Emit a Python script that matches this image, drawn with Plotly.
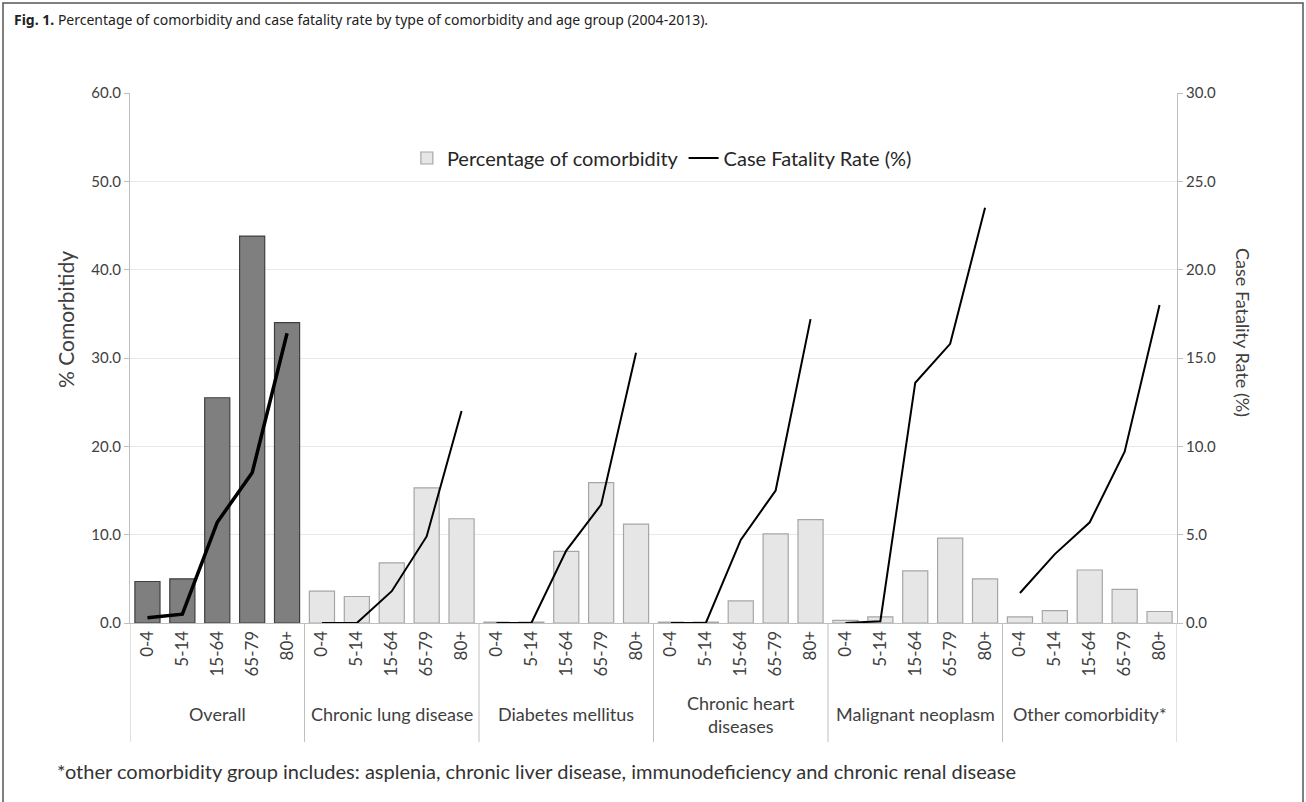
import plotly.graph_objects as go

# ---------------- data ----------------
age_groups = ["0-4", "5-14", "15-64", "65-79", "80+"]
group_names = ["Overall", "Chronic lung disease", "Diabetes mellitus",
               "Chronic heart<br>diseases", "Malignant neoplasm", "Other comorbidity*"]

pct_overall = [4.7, 5.0, 25.5, 43.8, 34.0]
pct_lung = [3.6, 3.0, 6.8, 15.3, 11.8]
pct_diabetes = [0.1, 0.1, 8.1, 15.9, 11.2]
pct_heart = [0.1, 0.1, 2.5, 10.1, 11.7]
pct_malignant = [0.3, 0.7, 5.9, 9.6, 5.0]
pct_other = [0.7, 1.4, 6.0, 3.8, 1.3]

cfr_overall = [0.3, 0.5, 5.7, 8.5, 16.4]
cfr_lung = [0.0, 0.0, 1.8, 4.9, 12.0]
cfr_diabetes = [0.0, 0.0, 4.1, 6.7, 15.3]
cfr_heart = [0.0, 0.0, 4.7, 7.5, 17.2]
cfr_malignant = [0.0, 0.1, 13.6, 15.8, 23.5]
cfr_other = [1.7, 3.9, 5.7, 9.7, 18.0]

pct_all = [pct_overall, pct_lung, pct_diabetes, pct_heart, pct_malignant, pct_other]
cfr_all = [cfr_overall, cfr_lung, cfr_diabetes, cfr_heart, cfr_malignant, cfr_other]

# ---------------- figure ----------------
FONT = "Lato"
TXT = "#404040"
n = len(age_groups)
positions = [[g * n + j for j in range(n)] for g in range(len(group_names))]

fig = go.Figure()

light_x, light_y = [], []
for g in range(1, len(group_names)):
    light_x += positions[g]
    light_y += pct_all[g]
fig.add_trace(go.Bar(x=light_x, y=light_y, name="Percentage of comorbidity",
                     marker=dict(color="#e6e6e6", line=dict(color="#a6a6a6", width=1.2)),
                     width=0.72, yaxis="y"))
fig.add_trace(go.Bar(x=positions[0], y=pct_overall, showlegend=False,
                     marker=dict(color="#7f7f7f", line=dict(color="#404040", width=1.2)),
                     width=0.72, yaxis="y"))

for g in range(len(group_names)):
    fig.add_trace(go.Scatter(
        x=positions[g], y=cfr_all[g], mode="lines", yaxis="y2",
        name="Case Fatality Rate (%)", legendgroup="cfr",
        showlegend=(g == 1),
        line=dict(color="#000000", width=3.5 if g == 0 else 2)))

W, H = 1306, 802
L, R, T, B = 130, 129, 93, 179
pw, ph = W - L - R, H - T - B


def px_x(x):
    return (x - L) / pw


def px_y(y):
    return (H - B - y) / ph


shapes = []
for g in range(len(group_names) + 1):
    shapes.append(dict(type="line", xref="x", yref="paper",
                       x0=g * n - 0.5, x1=g * n - 0.5, y0=0, y1=px_y(742),
                       line=dict(color="#bfbfbf", width=1)))
shapes.append(dict(type="rect", xref="paper", yref="paper",
                   x0=px_x(3), x1=px_x(1303), y0=px_y(3), y1=px_y(815),
                   line=dict(color="#555555", width=1.5)))

annotations = []
for g, name in enumerate(group_names):
    annotations.append(dict(x=g * n + (n - 1) / 2, y=px_y(714), xref="x", yref="paper",
                            text=name, showarrow=False, xanchor="center", yanchor="middle",
                            font=dict(family=FONT, size=18, color=TXT)))
annotations.append(dict(x=px_x(12), y=px_y(20), xref="paper", yref="paper",
                        xanchor="left", yanchor="middle", showarrow=False,
                        text="<b>Fig. 1.</b> Percentage of comorbidity and case fatality rate by type of comorbidity and age group (2004-2013).",
                        font=dict(family="Noto Sans", size=14, color="#222222")))
annotations.append(dict(x=px_x(55), y=px_y(771), xref="paper", yref="paper",
                        xanchor="left", yanchor="middle", showarrow=False,
                        text="*other comorbidity group includes: asplenia, chronic liver disease, immunodeficiency and chronic renal disease",
                        font=dict(family=FONT, size=20, color="#333333")))
annotations.append(dict(x=px_x(65), y=px_y(320), xref="paper", yref="paper",
                        xanchor="center", yanchor="middle",
                        textangle=-90, showarrow=False, text="% Comorbitidy",
                        font=dict(family=FONT, size=21, color=TXT)))
annotations.append(dict(x=px_x(1243), y=px_y(332), xref="paper", yref="paper",
                        xanchor="center", yanchor="middle",
                        textangle=90, showarrow=False, text="Case Fatality Rate (%)",
                        font=dict(family=FONT, size=18, color=TXT)))

fig.update_layout(
    width=W, height=H,
    margin=dict(l=L, r=R, t=T, b=B, autoexpand=False),
    paper_bgcolor="white", plot_bgcolor="white",
    barmode="overlay",
    font=dict(family=FONT, color=TXT),
    showlegend=True,
    legend=dict(orientation="h", x=0.508, xanchor="center", y=px_y(158), yanchor="middle",
                font=dict(family=FONT, size=20, color="#262626"),
                bgcolor="rgba(0,0,0,0)", itemwidth=30, traceorder="normal"),
    xaxis=dict(range=[-0.5, len(group_names) * n - 0.5],
               tickmode="array",
               tickvals=[p for grp in positions for p in grp],
               ticktext=age_groups * len(group_names),
               tickangle=-90, ticks="", showgrid=False, zeroline=False,
               showline=True, linecolor="#bfbfbf", linewidth=1,
               tickfont=dict(family=FONT, size=17, color=TXT)),
    yaxis=dict(range=[0, 60], dtick=10, tickformat=".1f",
               showline=True, linecolor="#bfbfbf", ticks="outside", tickcolor="#bfbfbf",
               ticklen=5, showgrid=True, gridcolor="#e8e8e8", zeroline=False,
               tickfont=dict(family=FONT, size=15, color=TXT)),
    yaxis2=dict(range=[0, 30], dtick=5, tickformat=".1f", overlaying="y", side="right",
                showline=True, linecolor="#bfbfbf", ticks="outside", tickcolor="#bfbfbf",
                ticklen=5, showgrid=False, zeroline=False,
                tickfont=dict(family=FONT, size=15, color=TXT)),
    shapes=shapes, annotations=annotations,
)

fig.write_html("out.html", config={"displayModeBar": False},
               post_script="document.body.style.margin='0';document.body.style.overflow='hidden';")
